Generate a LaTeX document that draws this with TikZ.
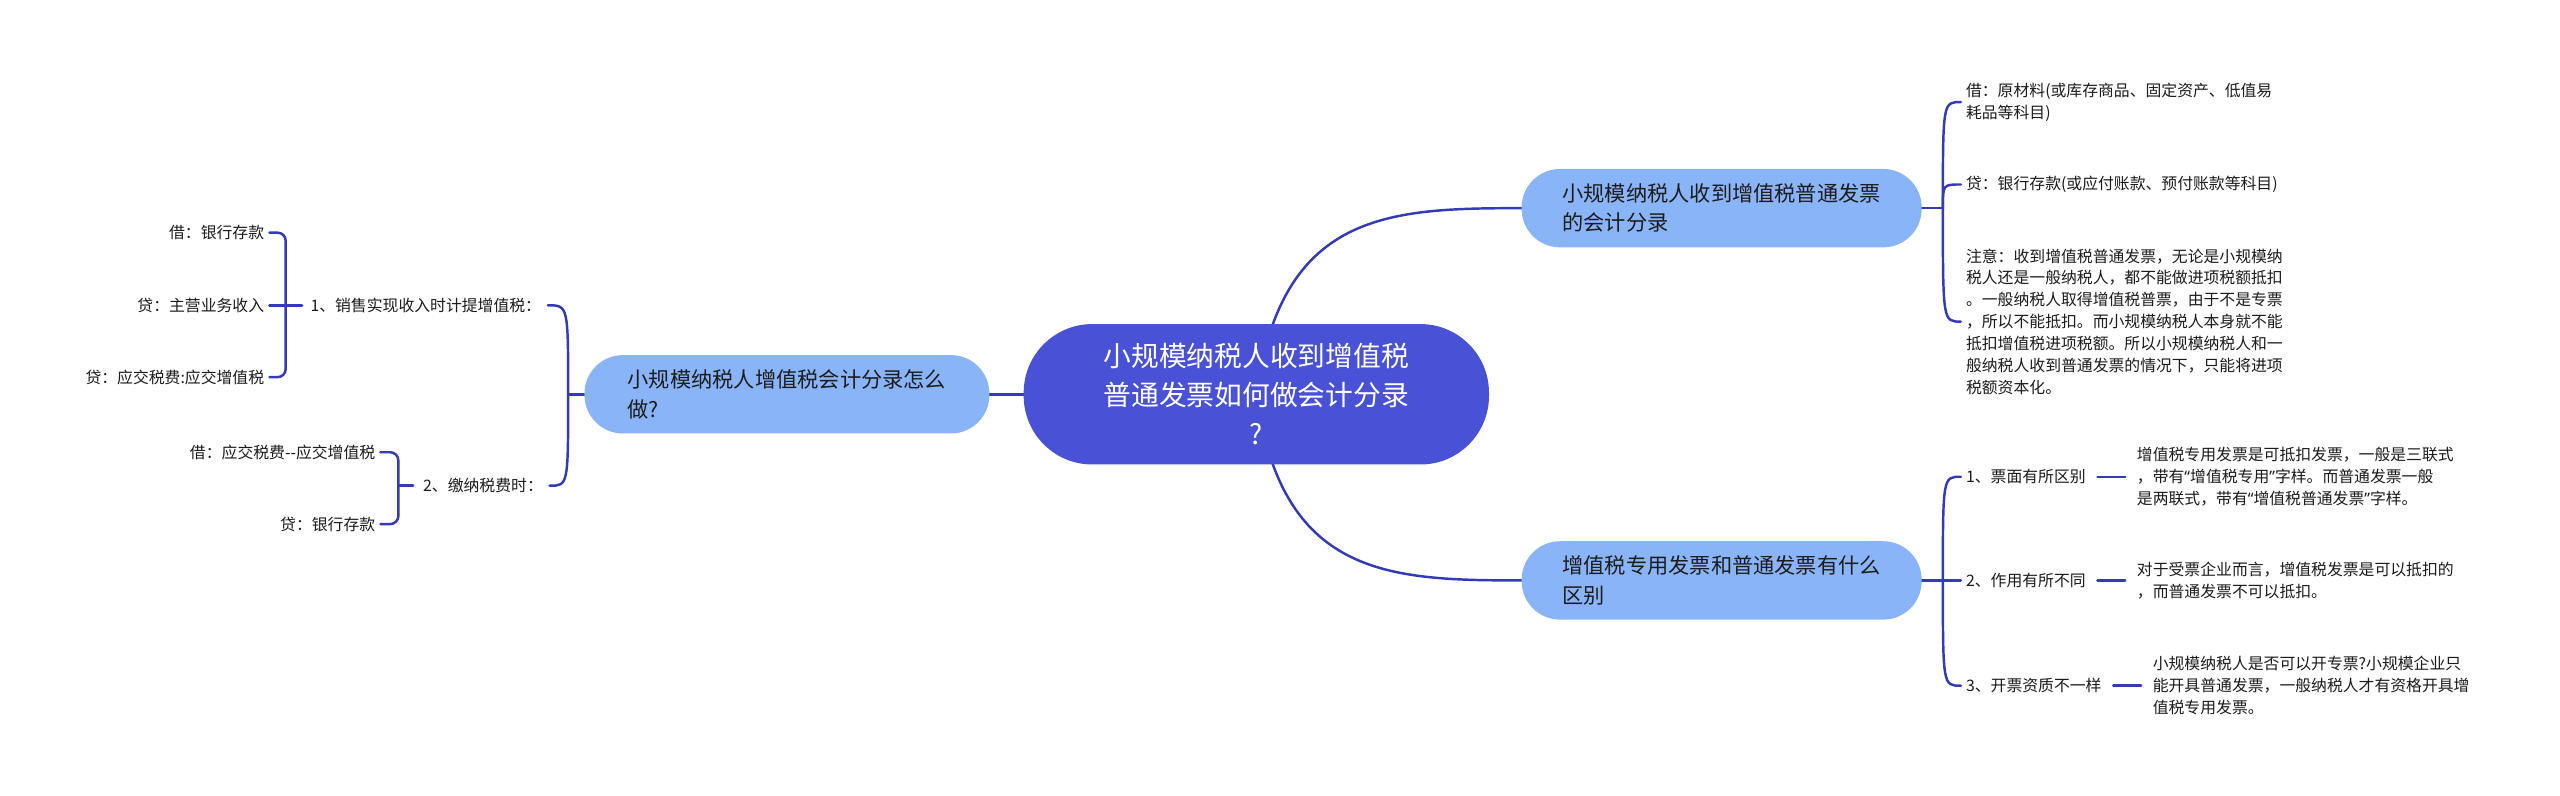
\documentclass[tikz,border=0pt]{standalone}
\usepackage{fontspec}
\setmainfont{Noto Sans CJK SC}
\newfontfamily\qfont{Noto Sans}
\usetikzlibrary{calc,backgrounds}
\definecolor{cdark}{RGB}{73,81,214}
\definecolor{clight}{RGB}{138,180,248}
\definecolor{cline}{RGB}{52,58,184}
\definecolor{ctext}{RGB}{28,28,28}
\newcommand{\myLq}{{\qfont “}}
\newcommand{\myRq}{{\qfont ”}}
\begin{document}
\begin{tikzpicture}[x=1pt,y=-1pt,
  conn/.style={draw=cline,line width=1.5pt,line cap=round},
  rootnode/.style={fill=cdark,rounded corners=42pt,minimum width=285pt,minimum height=86pt,inner sep=0pt,text=white,align=center,font=\fontsize{17}{24}\selectfont},
  subnode/.style={fill=clight,rounded corners=23.5pt,minimum width=245pt,minimum height=48pt,inner sep=0pt,text=ctext,align=left,font=\fontsize{13}{18}\selectfont},
  leaf/.style={inner sep=0pt,text=ctext,align=left,font=\fontsize{9.7}{13.4}\selectfont}
]
\useasboundingbox (0,0) rectangle (1568,487);

% main nodes
\node[rootnode] (root) at (769.5,241.5) {小规模纳税人收到增值税\\普通发票如何做会计分录\\?};
\node[subnode,minimum width=248pt] (L) at (482,241.5) {小规模纳税人增值税会计分录怎么\\做?};
\node[subnode] (RT) at (1054.5,127.5) {小规模纳税人收到增值税普通发票\\的会计分录};
\node[subnode] (RB) at (1054.5,355.5) {增值税专用发票和普通发票有什么\\区别};

% left subtree
\node[leaf,anchor=west] (s1) at (190,187) {1、销售实现收入时计提增值税：};
\node[leaf,anchor=west] (s2) at (259,297.5) {2、缴纳税费时：};
\node[leaf,anchor=east] (l1) at (162,142.5) {借：银行存款};
\node[leaf,anchor=east] (l2) at (162,187) {贷：主营业务收入};
\node[leaf,anchor=east] (l3) at (162,231) {贷：应交税费:应交增值税};
\node[leaf,anchor=east] (l4) at (230,277) {借：应交税费{-}{-}应交增值税};
\node[leaf,anchor=east] (l5) at (230,321) {贷：银行存款};

% right top subtree
\node[leaf,anchor=west] (r1) at (1204,62.5) {借：原材料(或库存商品、固定资产、低值易\\耗品等科目)};
\node[leaf,anchor=west] (r2) at (1204,113) {贷：银行存款(或应付账款、预付账款等科目)};
\node[leaf,anchor=west] (r3) at (1204,197) {注意：收到增值税普通发票，无论是小规模纳\\税人还是一般纳税人，都不能做进项税额抵扣\\。一般纳税人取得增值税普票，由于不是专票\\，所以不能抵扣。而小规模纳税人本身就不能\\抵扣增值税进项税额。所以小规模纳税人和一\\般纳税人收到普通发票的情况下，只能将进项\\税额资本化。};

% right bottom subtree
\node[leaf,anchor=west] (c1) at (1204,292) {1、票面有所区别};
\node[leaf,anchor=west] (c2) at (1204,355.5) {2、作用有所不同};
\node[leaf,anchor=west] (c3) at (1204,420) {3、开票资质不一样};
\node[leaf,anchor=west] (d1) at ([xshift=31pt]c1.east) {增值税专用发票是可抵扣发票，一般是三联式\\，带有\myLq 增值税专用\myRq 字样。而普通发票一般\\是两联式，带有\myLq 增值税普通发票\myRq 字样。};
\node[leaf,anchor=west] (d2) at ([xshift=31pt]c2.east) {对于受票企业而言，增值税发票是可以抵扣的\\，而普通发票不可以抵扣。};
\node[leaf,anchor=west] (d3) at ([xshift=31pt]c3.east) {小规模纳税人是否可以开专票?小规模企业只\\能开具普通发票，一般纳税人才有资格开具增\\值税专用发票。};

% junctions
\coordinate (j1) at (175,187);
\coordinate (j2) at (244,297.5);
\coordinate (j3) at (348,241.5);
\coordinate (j4) at (1190,127.5);
\coordinate (j5) at (1190,355.5);

\begin{pgfonlayer}{background}
\fill[white] (0,0) rectangle (1568,487);
% root connectors
\draw[conn] (root.center) .. controls (785,130) and (850,127.5) .. (RT.west);
\draw[conn] (root.center) .. controls (785,353) and (850,355.5) .. (RB.west);
\draw[conn] (root.center) -- (L.center);
% left brackets
\draw[conn] (L.center) -- (j3);
\draw[conn] (j3) .. controls (j3 |- s1.east) .. ([xshift=4pt]s1.east);
\draw[conn] (j3) .. controls (j3 |- s2.east) .. ([xshift=4pt]s2.east);
\draw[conn,rounded corners=5pt] ([xshift=3pt]l1.east) -| (j1) |- ([xshift=3pt]l3.east);
\draw[conn] ([xshift=3pt]l2.east) -- ([xshift=-5pt]s1.west);
\draw[conn,rounded corners=5pt] ([xshift=3pt]l4.east) -| (j2) |- ([xshift=3pt]l5.east);
\draw[conn] (j2) -- ([xshift=-6pt]s2.west);
% right top bracket
\draw[conn] (RT.center) -- (j4);
\draw[conn] (j4) .. controls (j4 |- r1.west) .. ([xshift=-3pt]r1.west);
\draw[conn] (j4) .. controls (j4 |- r2.west) .. ([xshift=-3pt]r2.west);
\draw[conn] (j4) .. controls (j4 |- r3.west) .. ([xshift=-3pt]r3.west);
% right bottom bracket
\draw[conn] (RB.center) -- (j5);
\draw[conn] (j5) .. controls (j5 |- c1.west) .. ([xshift=-3pt]c1.west);
\draw[conn] (j5) -- ([xshift=-3pt]c2.west);
\draw[conn] (j5) .. controls (j5 |- c3.west) .. ([xshift=-3pt]c3.west);
% stubs
\draw[conn] ([xshift=7pt]c1.east) -- ([xshift=-7pt]d1.west);
\draw[conn] ([xshift=7pt]c2.east) -- ([xshift=-7pt]d2.west);
\draw[conn] ([xshift=7pt]c3.east) -- ([xshift=-7pt]d3.west);
\end{pgfonlayer}
\end{tikzpicture}
\end{document}
